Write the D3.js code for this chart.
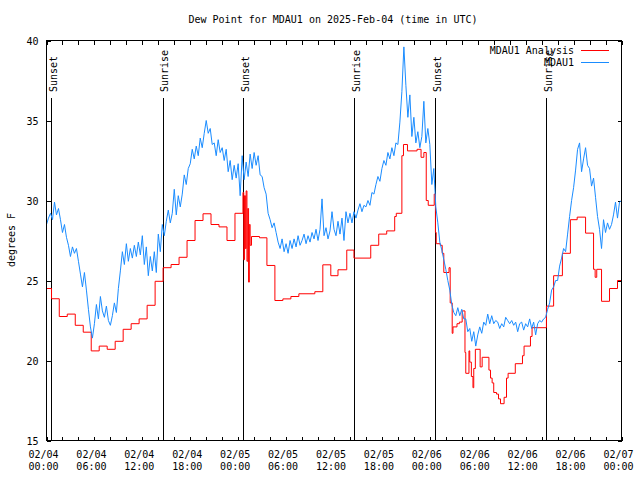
<!DOCTYPE html>
<html><head><meta charset="utf-8">
<script src="https://cdn.jsdelivr.net/npm/d3@7/dist/d3.min.js"></script>
<style>
body{margin:0;background:#fff}
text{font-family:"DejaVu Sans Mono",monospace;font-size:10px;fill:#000}
</style>
</head><body>
<script>
const title = "Dew Point for MDAU1 on 2025-Feb-04 (time in UTC)";
const yLabel = "degrees F";
const yTicks = [15, 20, 25, 30, 35, 40];
const seriesNames = ["MDAU1 Analysis", "MDAU1"];
const seriesColors = ["#ff0000", "#1a8cff"];

// hours since 2025-02-04 00:00 UTC
const sunHours = [0.63, 14.65, 24.67, 38.57, 48.71, 62.61];
const sunLabels = ["Sunset", "Sunrise", "Sunset", "Sunrise", "Sunset", "Sunrise"];

const analysisHours = [
  0, 0.63, 1.6, 2.6, 3.6, 4.6, 5.6, 6.6, 7.6, 8.6,
  9.6, 10.6, 11.6, 12.6, 13.6, 14.6, 15.6, 16.6, 17.6, 18.6,
  19.6, 20.6, 21.6, 22.6, 23.6, 24.6, 24.7, 24.8, 24.9, 25.0,
  25.1, 25.2, 25.3, 25.4, 25.5, 25.67, 26.67, 27.6, 28.6, 29.6,
  30.6, 31.6, 33.6, 34.6, 35.6, 36.5, 37.6, 38.5, 40.6, 41.6,
  42.6, 43.6, 43.8, 44.5, 44.7, 45.2, 46.4, 46.9, 47.25, 47.55,
  47.8, 48.55, 48.7, 48.8, 49.3, 49.55, 49.75, 50.4, 50.55, 50.8,
  50.9, 51.4, 51.7, 52.05, 52.4, 52.5, 52.9, 53.0, 53.2, 53.4,
  53.5, 53.7, 54.3, 54.55, 55.4, 55.6, 55.8, 56.0, 56.35, 56.6,
  56.85, 57.3, 57.6, 57.8, 58.7, 59.6, 59.8, 60.6, 60.8, 62.6,
  63.5, 64.6, 65.6, 66.45, 67.5, 68.5, 68.7, 68.9, 69.5, 70.5,
  71.5, 72
];
const analysisValues = [
  24.5, 23.86, 22.75, 22.9, 22.2, 21.77, 20.6, 20.9, 20.7, 21.2,
  21.95, 22.3, 22.6, 23.45, 24.95, 25.8, 26.0, 26.45, 27.5, 28.75,
  29.17, 28.5, 28.35, 27.5, 29.2, 30.5, 26.3, 30.3, 27.0, 30.6,
  26.2, 29.5, 24.9, 28.5, 27.2, 27.75, 27.67, 25.94, 23.75, 23.85,
  24.0, 24.17, 24.3, 25.98, 25.3, 25.67, 26.9, 26.4, 27.2, 27.9,
  28.1, 29.0, 29.2, 32.8, 33.5, 33.1, 33.2, 32.7, 33.0, 30.0,
  29.7, 30.4, 28.0, 27.3, 27.2, 26.7, 25.5, 25.8, 23.6, 21.7,
  22.1, 22.3, 22.4, 23.1, 20.5, 19.2, 20.6, 19.9, 19.0, 18.3,
  19.5, 20.7, 19.6, 20.2, 19.4, 18.9, 18.6, 18.0, 17.9, 17.6,
  17.3, 17.7, 18.9, 19.2, 19.8, 20.3, 20.9, 21.5, 22.05, 23.4,
  25.3, 26.7, 28.8, 28.96, 27.96, 25.7, 25.2, 25.7, 23.7, 24.5,
  25.0, 25.0
];

// observations every 15 minutes from 00:00 on 02/04
const obsStepHours = 0.25;
const obsValues = [
  28.5, 28.9, 29.2, 28.8,  29.9, 29.1, 29.5, 28.8,  28.0, 28.5, 27.7, 27.2,  26.5, 27.1, 26.7, 27.0,
  26.2, 25.4, 24.6, 25.5,  24.4, 23.2, 22.1, 21.4,  22.3, 23.5, 22.6, 24.0,  23.1, 22.7, 23.4, 22.5,
  22.2, 22.8, 23.6, 23.0,  24.5, 25.6, 26.8, 26.0,  27.3, 26.2, 27.0, 26.4,  27.2, 26.5, 27.4, 26.6,
  27.8, 26.0, 27.1, 25.3,  26.5, 25.6, 26.8, 25.5,  27.9, 26.8, 28.5, 27.8,  28.7, 29.4, 28.6, 29.2,
  30.7, 29.1, 30.3, 29.6,  30.4, 31.6, 31.0, 32.0,  32.3, 33.2, 32.6, 33.4,  32.8, 33.9, 33.3, 34.2,
  35.0, 34.2, 34.5, 33.5,  33.6, 32.8, 33.8, 33.0,  33.3, 32.5, 33.2, 31.8,  32.5, 31.3, 32.2, 31.4,
  32.3, 30.3, 32.8, 31.3,  32.4, 31.5, 32.9, 32.0,  33.0, 32.2, 32.8, 31.6,  31.5, 30.8, 30.4, 29.2,
  28.8, 28.3, 28.6, 28.0,  27.4, 27.0, 27.6, 26.8,  27.3, 26.7, 27.5, 27.0,  27.6, 27.1, 27.8, 27.2,
  27.5, 27.9, 27.3, 27.8,  27.4, 28.0, 27.6, 28.2,  27.5, 28.2, 30.1, 27.8,  28.3, 27.6, 28.1, 29.3,
  28.2, 27.8, 28.7, 27.9,  28.9, 27.5, 29.3, 28.6,  29.2, 28.6, 29.3, 28.9,  29.4, 29.8, 29.3, 29.7,
  29.6, 30.0, 29.7, 30.5,  30.4, 31.0, 31.5, 31.2,  32.0, 32.5, 32.2, 33.0,  32.6, 33.3, 32.8, 33.6,
  33.5, 34.9, 36.8, 39.6,  37.2, 35.2, 36.6, 34.0,  35.2, 33.6, 34.3, 33.3,  34.0, 36.2, 33.6, 34.5,
  33.5, 31.0, 32.0, 29.6,  28.6, 27.4, 26.9, 26.3,  25.7, 25.0, 24.4, 23.5,  23.0, 22.8, 23.3, 22.8,
  23.2, 22.6, 22.6, 21.8,  22.0, 21.2, 21.8, 20.9,  21.6, 22.1, 21.7, 22.4,  22.2, 22.9, 22.3, 22.8,
  22.3, 22.5, 22.4, 22.0,  22.3, 22.1, 22.7, 22.5,  22.3, 22.5, 22.2, 22.4,  21.8, 22.3, 22.4, 21.9,
  22.3, 22.1, 22.6, 22.0,  22.4, 21.6, 22.3, 22.5,  22.4, 22.6, 22.7, 23.2,  23.6, 24.4, 24.6, 25.0,
  25.0, 25.9, 26.4, 27.0,  26.8, 27.9, 29.0, 30.0,  30.8, 31.9, 33.2, 33.6,  31.8, 32.6, 33.3, 32.2,
  32.0, 30.9, 31.4, 30.2,  29.0, 28.2, 27.0, 28.8,  28.0, 28.6, 28.2, 28.5,  29.1, 29.9, 28.9, 29.9,
  30.0
];

const t0 = Date.UTC(2025, 1, 4, 0, 0);
const H = 3600 * 1000;
const toDate = h => new Date(t0 + h * H);

const W = 640, Hgt = 480;
const svg = d3.select("body").append("svg").attr("width", W).attr("height", Hgt);

const x = d3.scaleUtc().domain([toDate(0), toDate(72)]).range([46.5, 621.5]);
const y = d3.scaleLinear().domain([15, 40]).range([440.5, 40.5]);

// title
svg.append("text").attr("x", 333).attr("y", 23).attr("text-anchor", "middle").text(title);

// y label
svg.append("text").attr("transform", "translate(15,240) rotate(-90)")
  .attr("text-anchor", "middle").text(yLabel);

// y ticks
const yAxisL = d3.axisLeft(y).tickValues(yTicks).tickSize(-4).tickPadding(8).tickFormat(d3.format("d"));
const gyl = svg.append("g").attr("transform", "translate(46.5,0)").call(yAxisL);
const yAxisR = d3.axisRight(y).tickValues(yTicks).tickSize(-4).tickFormat("");
const gyr = svg.append("g").attr("transform", "translate(621.5,0)").call(yAxisR);

// x ticks every 2 h top & bottom, labels every 6 h
const minorTicks = d3.utcHour.every(2).range(toDate(0), toDate(72.01));
const majorTicks = d3.utcHour.every(6).range(toDate(0), toDate(72.01));
const gxb = svg.append("g").attr("transform", "translate(0,440.5)")
  .call(d3.axisBottom(x).tickValues(minorTicks).tickSize(-4).tickFormat(""));
const gxt = svg.append("g").attr("transform", "translate(0,40.5)")
  .call(d3.axisTop(x).tickValues(minorTicks).tickSize(-4).tickFormat(""));
[gyl, gyr, gxb, gxt].forEach(g => {
  g.select(".domain").remove();
  g.selectAll(".tick line").attr("stroke", "#000").attr("shape-rendering", "crispEdges");
  g.selectAll("text").attr("font-family", null).attr("font-size", null).attr("fill", "#000");
});
gyl.selectAll(".tick text").attr("dy", "0.35em");

const fmtDate = d3.utcFormat("%m/%d"), fmtTime = d3.utcFormat("%H:%M");
const xl = svg.append("g").selectAll("text").data(majorTicks).join("text")
  .attr("x", d => x(d) - 3).attr("y", 458).attr("text-anchor", "middle");
xl.append("tspan").attr("x", d => x(d) - 3).attr("y", 458).text(d => fmtDate(d));
xl.append("tspan").attr("x", d => x(d) - 3).attr("y", 470).text(d => fmtTime(d));

// sunrise / sunset markers
const sun = svg.append("g");
sun.selectAll("line").data(sunHours).join("line")
  .attr("x1", h => Math.round(x(toDate(h)) - 0.5) + 0.5)
  .attr("x2", h => Math.round(x(toDate(h)) - 0.5) + 0.5)
  .attr("y1", 98).attr("y2", y(15)).attr("stroke", "#000").attr("stroke-width", 1)
  .attr("shape-rendering", "crispEdges");
sun.selectAll("text").data(sunHours).join("text")
  .attr("transform", h => `translate(${Math.round(x(toDate(h))) + 5},92) rotate(-90)`)
  .text((h, i) => sunLabels[i]);

// clip
svg.append("clipPath").attr("id", "clip").append("rect")
  .attr("x", 46).attr("y", 40).attr("width", 576).attr("height", 401);

// analysis (step)
const analysis = analysisHours.map((h, i) => ({ t: toDate(h), v: analysisValues[i] }));
const lineStep = d3.line().x(d => x(d.t)).y(d => y(d.v)).curve(d3.curveStepAfter);
svg.append("path").datum(analysis).attr("clip-path", "url(#clip)")
  .attr("d", lineStep).attr("fill", "none").attr("stroke", seriesColors[0]).attr("stroke-width", 1);

// observations
const obs = obsValues.map((v, i) => ({ t: toDate(i * obsStepHours), v }));
const lineObs = d3.line().x(d => x(d.t)).y(d => y(d.v));
svg.append("path").datum(obs).attr("clip-path", "url(#clip)")
  .attr("d", lineObs).attr("fill", "none").attr("stroke", seriesColors[1]).attr("stroke-width", 1);

// frame
svg.append("rect").attr("x", 46.5).attr("y", 40.5).attr("width", 575).attr("height", 400)
  .attr("fill", "none").attr("stroke", "#000").attr("shape-rendering", "crispEdges");

// legend
const leg = svg.append("g");
seriesNames.forEach((name, i) => {
  const yy = 50 + i * 12;
  leg.append("text").attr("x", 574).attr("y", yy + 4).attr("text-anchor", "end").text(name);
  leg.append("line").attr("x1", 581).attr("x2", 609).attr("y1", yy + 0.5).attr("y2", yy + 0.5)
    .attr("stroke", seriesColors[i]).attr("stroke-width", 1);
});
</script>
</body></html>
